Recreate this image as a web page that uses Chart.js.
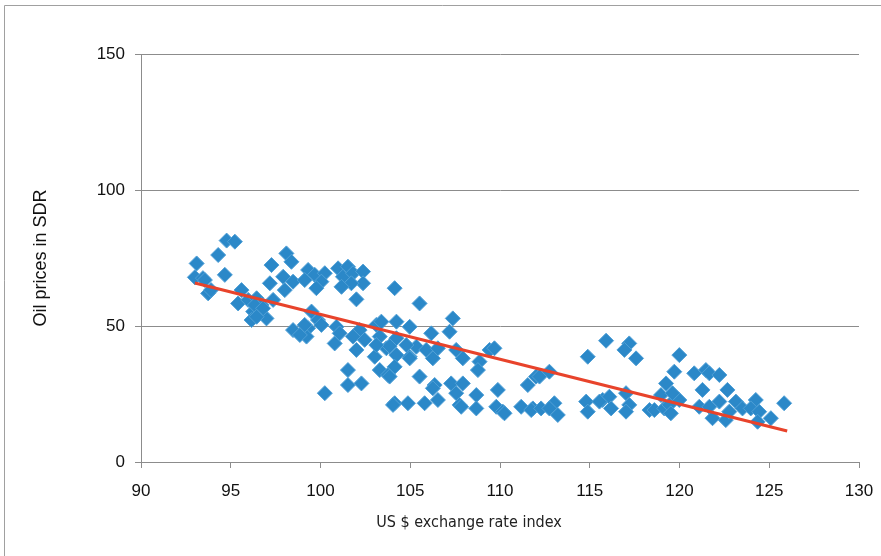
<!DOCTYPE html>
<html>
<head>
<meta charset="utf-8">
<script src="https://cdn.jsdelivr.net/npm/chart.js@4.4.0/dist/chart.umd.min.js"></script>
<style>
  html, body { margin: 0; padding: 0; background: #fff; }
  #wrap { width: 881px; height: 556px; }
</style>
</head>
<body>
<div id="wrap"><canvas id="chart" width="881" height="556"></canvas></div>
<script>
// US $ exchange rate index (x) vs oil prices in SDR (y)
let rateIndex = [
  93.0, 93.1, 93.45, 93.56, 93.74, 93.9, 94.3, 94.77, 95.23, 94.67,
  95.6, 95.41, 95.97, 96.44, 96.71, 96.25, 96.99, 96.16, 97.36, 97.27,
  98.1, 98.38, 97.92, 97.18, 98.47, 98.01, 99.31, 99.68, 99.12, 100.24,
  100.05, 99.77, 100.98, 101.53, 101.25, 101.81, 102.37, 102.37, 101.72, 101.17,
  102.0, 96.34, 96.8, 96.44, 99.5, 99.86, 99.31, 98.47, 99.22, 100.05,
  100.89, 101.07, 100.79, 102.18, 101.81, 102.46, 102.0, 103.11, 98.85, 99.12,
  104.13, 105.52, 104.23, 103.39, 104.97, 106.17, 103.3, 103.67, 104.23, 103.02,
  104.23, 104.97, 105.34, 105.89, 104.13, 103.3, 103.76, 101.53, 102.28, 101.53,
  105.52, 106.36, 100.24, 104.13, 104.87, 105.8, 107.37, 107.19, 106.54, 107.56,
  107.93, 106.26, 108.86, 108.77, 106.26, 107.28, 107.93, 107.56, 108.68, 106.54,
  107.75, 108.68, 109.42, 109.69, 109.88, 111.55, 112.01, 107.84, 109.79, 110.16,
  111.18, 111.83, 112.2, 112.75, 110.25, 111.74, 112.29, 113.03, 112.75, 113.22,
  114.89, 115.91, 117.2, 116.93, 117.58, 114.8, 114.89, 115.72, 116.09, 116.19,
  117.02, 117.2, 117.02, 118.33, 118.6, 119.15, 119.43, 119.99, 119.52, 119.99,
  119.71, 119.25, 118.97, 119.61, 120.82, 121.47, 121.66, 122.22, 121.28, 122.67,
  122.22, 123.14, 124.25, 121.1, 121.66, 121.84, 122.58, 122.77, 123.51, 123.97,
  124.44, 125.09, 125.83, 124.35, 115.54, 103.85, 104.78, 103.11, 104.97, 103.85,
  104.04
]
let oilSdr = [
  67.9, 73.0, 67.6, 66.9, 62.0, 63.2, 76.1, 81.4, 81.0, 68.8,
  63.2, 58.3, 59.6, 60.2, 57.7, 55.3, 52.8, 52.2, 59.6, 72.4,
  76.7, 73.6, 68.1, 65.7, 66.3, 63.2, 70.6, 68.8, 66.9, 69.4,
  66.3, 63.9, 71.2, 71.8, 68.1, 69.4, 70.0, 65.7, 65.7, 64.4,
  59.8, 57.7, 56.5, 53.4, 55.3, 52.2, 49.2, 48.5, 46.1, 50.4,
  49.7, 47.3, 43.6, 48.5, 46.1, 44.9, 41.2, 50.4, 46.7, 50.4,
  63.9, 58.3, 51.6, 51.6, 49.7, 47.3, 46.1, 41.8, 45.5, 38.7,
  39.3, 38.7, 42.4, 41.2, 35.0, 33.8, 32.0, 33.8, 28.9, 28.3,
  31.4, 28.3, 25.3, 21.6, 21.6, 21.6, 52.8, 47.9, 41.8, 41.2,
  38.1, 38.1, 36.9, 33.8, 27.1, 28.9, 28.9, 25.3, 24.6, 22.8,
  21.0, 19.7, 41.2, 41.8, 26.5, 28.3, 31.4, 20.3, 20.3, 18.5,
  20.3, 19.7, 31.4, 33.2, 17.9, 19.1, 19.7, 21.6, 19.7, 17.3,
  38.7, 44.6, 43.6, 41.2, 38.1, 22.2, 18.5, 22.8, 24.0, 19.7,
  25.3, 21.0, 18.5, 19.1, 19.1, 19.7, 21.0, 22.8, 17.9, 39.3,
  33.2, 28.9, 24.6, 25.3, 32.6, 33.8, 32.6, 32.0, 26.5, 26.5,
  22.2, 22.2, 22.8, 20.3, 20.3, 16.1, 15.4, 18.5, 19.7, 19.7,
  18.5, 16.1, 21.6, 14.8, 22.2, 42.6, 43.0, 43.0, 38.1, 31.4,
  21.0
]
// linear trend line end points
let trendX = [93.0, 126.0]
let trendY = [65.8, 11.4]

let xTitle = 'US $ exchange rate index'

// outer frame and the x title (which sits left of centre in the original)
let frame = {
  id: 'frame',
  beforeDraw(chart) {
    let ctx = chart.ctx
    ctx.save()
    ctx.strokeStyle = '#a0a0a0'
    ctx.lineWidth = 1
    ctx.beginPath()
    ctx.moveTo(4.5, 556)
    ctx.lineTo(4.5, 5.5)
    ctx.lineTo(881, 5.5)
    ctx.stroke()
    ctx.restore()
  },
  afterDraw(chart) {
    let ctx = chart.ctx
    ctx.save()
    ctx.fillStyle = '#222'
    ctx.font = '16px "DejaVu Sans Condensed", sans-serif'
    ctx.textAlign = 'center'
    ctx.textBaseline = 'middle'
    ctx.fillText(xTitle, 469, 523)
    ctx.restore()
  }
}

let config = {
  type: 'scatter',
  data: {
    datasets: [{
      type: 'line',
      label: 'Trend',
      data: trendX.map((x, i) => ({ x: x, y: trendY[i] })),
      borderColor: '#e8432b',
      borderWidth: 3,
      pointRadius: 0,
      fill: false
    }, {
      label: 'Oil prices in SDR',
      data: rateIndex.map((x, i) => ({ x: x, y: oilSdr[i] })),
      pointStyle: 'rectRot',
      pointRadius: 7.5,
      backgroundColor: '#2b88c8',
      borderColor: '#4f9fd6',
      borderWidth: 1
    }]
  },
  options: {
    responsive: false,
    animation: false,
    layout: {
      padding: { left: 0, top: 54, right: 22, bottom: 0 }
    },
    plugins: {
      legend: { display: false },
      tooltip: { enabled: false }
    },
    scales: {
      x: {
        type: 'linear',
        min: 90,
        max: 130,
        ticks: {
          stepSize: 5,
          color: '#111',
          padding: 13,
          font: { family: '"Liberation Sans", Arial, sans-serif', size: 17 }
        },
        grid: {
          drawOnChartArea: false,
          drawTicks: true,
          tickLength: 6,
          color: '#8c8c8c'
        },
        border: { color: '#8c8c8c' },
        afterFit(scale) {
          scale.height = 94
          scale.paddingLeft = 0
          scale.paddingRight = 0
        }
      },
      y: {
        min: 0,
        max: 150,
        ticks: {
          stepSize: 50,
          color: '#111',
          padding: 10,
          font: { family: '"Liberation Sans", Arial, sans-serif', size: 17 }
        },
        grid: {
          color: '#8c8c8c',
          tickLength: 6
        },
        border: { color: '#8c8c8c' },
        title: {
          display: true,
          text: 'Oil prices in SDR',
          color: '#111',
          padding: { top: 30, bottom: 0 },
          font: { family: '"Liberation Sans", Arial, sans-serif', size: 18 }
        },
        afterFit(scale) { scale.width = 141 }
      }
    }
  },
  plugins: [frame]
}
new Chart(document.getElementById('chart'), config)
</script>
</body>
</html>
